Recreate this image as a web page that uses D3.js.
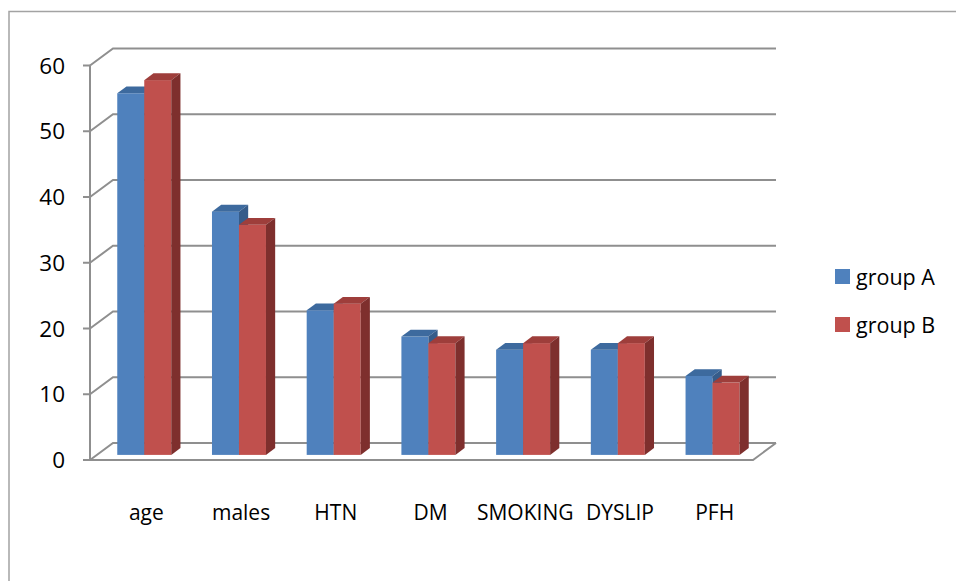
<!DOCTYPE html>
<html>
<head>
<meta charset="utf-8">
<script src="https://cdn.jsdelivr.net/npm/d3@7/dist/d3.min.js"></script>
<style>
  html, body { margin: 0; padding: 0; background: #ffffff; }
  svg { display: block; }
  text { font-family: "Open Sans", "Noto Sans", sans-serif; fill: #000; }
</style>
</head>
<body>
<svg id="chart" width="956" height="581"></svg>
<script>
// Data
const categories = ["age", "males", "HTN", "DM", "SMOKING", "DYSLIP", "PFH"];
const groupA = [55, 37, 22, 18, 16, 16, 12];
const groupB = [57, 35, 23, 17, 17, 17, 11];
const seriesNames = ["group A", "group B"];
const yTicks = [0, 10, 20, 30, 40, 50, 60];

const series = [
  { name: seriesNames[0], values: groupA, front: "#4F81BD", top: "#3D6A9E", side: "#365C8A" },
  { name: seriesNames[1], values: groupB, front: "#C0504D", top: "#9E3E3B", side: "#7E2F2D" }
];

const svg = d3.select("#chart");

// Outer chart frame (top and left edges)
svg.append("path")
  .attr("d", "M9,581 L9,11.5 L956,11.5")
  .attr("fill", "none")
  .attr("stroke", "#a3a3a3")
  .attr("stroke-width", 1.5);

// Oblique 3D projection: depth offset of the back wall
const depthX = 23, depthY = -17;
const plotLeft = 90, plotRight = 753;

const y = d3.scaleLinear().domain([0, 60]).range([460, 65.5]);
const x = d3.scaleBand().domain(categories).range([plotLeft, plotRight])
  .paddingInner(0.43).paddingOuter(0.215);
const xInner = d3.scaleBand().domain(seriesNames).range([0, x.bandwidth()]);

const gridColor = "#8f8f8f";
const grid = svg.append("g").attr("fill", "none").attr("stroke", gridColor).attr("stroke-width", 2);

// Back wall gridlines + diagonals to the front axis
yTicks.forEach(v => {
  const yf = y(v), yb = y(v) + depthY;
  grid.append("path").attr("d", `M${plotLeft},${yf} L${plotLeft + depthX},${yb} L${plotRight + depthX},${yb}`);
});

// Floor
grid.append("path")
  .attr("d", `M${plotLeft},${y(0)} L${plotRight},${y(0)} L${plotRight + depthX},${y(0) + depthY}`);

// Front value axis with ticks
grid.append("path").attr("d", `M${plotLeft},${y(0)} L${plotLeft},${y(60)}`);
yTicks.forEach(v => {
  grid.append("path").attr("d", `M${plotLeft - 7},${y(v)} L${plotLeft},${y(v)}`);
});

// Axis labels
svg.append("g").selectAll("text").data(yTicks).join("text")
  .attr("x", 65)
  .attr("y", d => y(d) + 8)
  .attr("text-anchor", "end")
  .attr("font-size", 22.5)
  .text(d => d);

// Bars: front plane sits 30% into the floor depth, bar depth 40%
const f0 = 0.3, fd = 0.4;
const bx0 = depthX * f0, by0 = depthY * f0;
const sx = depthX * fd, sy = depthY * fd;

const bars = svg.append("g");
categories.forEach((c, i) => {
  series.forEach(s => {
    const v = s.values[i];
    const xl = x(c) + xInner(s.name) + bx0;
    const xr = xl + xInner.bandwidth();
    const yt = y(v) + by0;
    const yb = y(0) + by0;
    const g = bars.append("g");
    // front face
    g.append("rect")
      .attr("x", xl).attr("y", yt)
      .attr("width", xr - xl).attr("height", yb - yt)
      .attr("fill", s.front);
    // top face
    g.append("path")
      .attr("d", `M${xl},${yt} L${xr},${yt} L${xr + sx},${yt + sy} L${xl + sx},${yt + sy} Z`)
      .attr("fill", s.top);
    // right side face
    g.append("path")
      .attr("d", `M${xr},${yt} L${xr + sx},${yt + sy} L${xr + sx},${yb + sy} L${xr},${yb} Z`)
      .attr("fill", s.side);
  });
});

// Category labels
svg.append("g").selectAll("text").data(categories).join("text")
  .attr("x", d => x(d) + x.bandwidth() / 2 + 9)
  .attr("y", 520)
  .attr("text-anchor", "middle")
  .attr("font-size", 21)
  .text(d => d);

// Legend
const legend = svg.append("g").attr("transform", "translate(835,269)");
series.forEach((s, i) => {
  const row = legend.append("g").attr("transform", `translate(0,${i * 48})`);
  row.append("rect").attr("width", 15).attr("height", 15).attr("fill", s.front);
  row.append("text").attr("x", 21).attr("y", 15.5).attr("font-size", 21.5).text(s.name);
});
</script>
</body>
</html>
